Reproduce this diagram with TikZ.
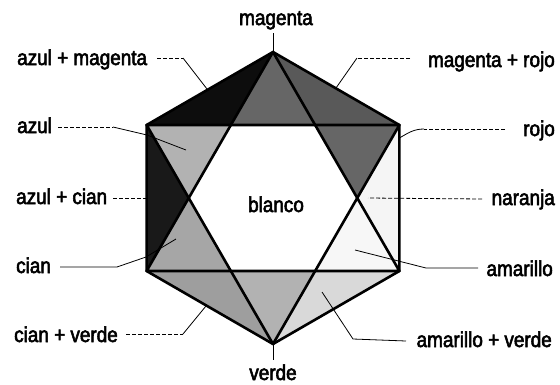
\documentclass[tikz,border=0pt]{standalone}
\usepackage{fontspec}
\setmainfont{Liberation Sans}[FakeStretch=0.88, FakeBold=2.6]
\begin{document}
\begin{tikzpicture}[x=1pt,y=-1pt,
  lbl/.style={inner sep=0pt, font=\fontsize{21.5}{24}\selectfont},
  edge/.style={line width=2.6pt, line join=round, line cap=round},
  leader/.style={line width=0.8pt},
  dleader/.style={line width=0.8pt, dash pattern=on 4pt off 2pt}]
\useasboundingbox (0,0) rectangle (560,384);
% hexagon vertices
\coordinate (T)  at (273,52);
\coordinate (UR) at (399.4,125);
\coordinate (LR) at (399.4,271);
\coordinate (B)  at (273,344);
\coordinate (LL) at (146.6,271);
\coordinate (UL) at (146.6,125);
% star intersections
\coordinate (P1) at (230.9,125);
\coordinate (P2) at (315.1,125);
\coordinate (Q1) at (188.7,198);
\coordinate (Q2) at (357.3,198);
\coordinate (P3) at (230.9,271);
\coordinate (P4) at (315.1,271);
% fills
\fill[black!60] (T) -- (P1) -- (P2) -- cycle;          % magenta
\fill[black!95] (T) -- (UL) -- (P1) -- cycle;          % azul + magenta
\fill[black!65] (T) -- (P2) -- (UR) -- cycle;          % magenta + rojo
\fill[black!60] (UR) -- (P2) -- (Q2) -- cycle;         % rojo
\fill[black!4]  (UR) -- (Q2) -- (LR) -- cycle;         % naranja
\fill[black!3]  (LR) -- (Q2) -- (P4) -- cycle;         % amarillo
\fill[black!15] (LR) -- (P4) -- (B) -- cycle;          % amarillo + verde
\fill[black!30] (B) -- (P4) -- (P3) -- cycle;          % verde
\fill[black!38] (B) -- (P3) -- (LL) -- cycle;          % cian + verde
\fill[black!35] (LL) -- (P3) -- (Q1) -- cycle;         % cian
\fill[black!90] (LL) -- (Q1) -- (UL) -- cycle;         % azul + cian
\fill[black!30] (UL) -- (Q1) -- (P1) -- cycle;         % azul
% lines
\draw[edge] (T) -- (UR) -- (LR) -- (B) -- (LL) -- (UL) -- cycle;
\draw[edge] (UL) -- (UR) -- (B) -- cycle;
\draw[edge] (T) -- (LR) -- (LL) -- cycle;
% labels
\node[lbl, anchor=base] (lM) at (276,25) {magenta};
\node[lbl, anchor=base] (lW) at (276,212) {blanco};
\node[lbl, anchor=base] (lV) at (273,380) {verde};
\node[lbl, anchor=base west] (lAM) at (17,65) {azul + magenta};
\node[lbl, anchor=base west] (lA) at (17,133) {azul};
\node[lbl, anchor=base west] (lAC) at (16,204) {azul + cian};
\node[lbl, anchor=base west] (lC) at (16,273) {cian};
\node[lbl, anchor=base west] (lCV) at (14,342) {cian + verde};
\node[lbl, anchor=base east] (lMR) at (555,67) {magenta + rojo};
\node[lbl, anchor=base east] (lR) at (555,136) {rojo};
\node[lbl, anchor=base east] (lN) at (555,205) {naranja};
\node[lbl, anchor=base east] (lY) at (553,276) {amarillo};
\node[lbl, anchor=base east] (lYV) at (552,347) {amarillo + verde};
% leader coordinates
\coordinate (mA) at (273,33);
\coordinate (vA) at (273,360);
\coordinate (amS) at (157,58);  \coordinate (amK) at (183,58);  \coordinate (amE) at (207,89);
\coordinate (mrS) at (410,58);  \coordinate (mrK) at (357,58);  \coordinate (mrE) at (336,88);
\coordinate (aS) at (58,127);   \coordinate (aK) at (113,127);  \coordinate (aJ) at (147,135); \coordinate (aE) at (186,150);
\coordinate (acS) at (113,198); \coordinate (acE) at (146.6,198);
\coordinate (cS) at (60,267);   \coordinate (cK) at (117,267);  \coordinate (cJ) at (146,257); \coordinate (cE) at (176,239);
\coordinate (cvS) at (126,334); \coordinate (cvK) at (183,334); \coordinate (cvE) at (206,306);
\coordinate (rS) at (505,129);  \coordinate (rK) at (424,129);  \coordinate (rE) at (399.4,138);
\coordinate (nS) at (482,199);  \coordinate (nE) at (368,198);
\coordinate (yS) at (478,268);  \coordinate (yK) at (426,268);  \coordinate (yE) at (355,250);
\coordinate (yvS) at (406,341); \coordinate (yvK) at (353,339); \coordinate (yvE) at (322,292);
% leaders
\draw[leader] (mA) -- (T);
\draw[leader] (B) -- (vA);
\draw[dleader] (amS) -- (amK);  \draw[leader] (amK) -- (amE);
\draw[dleader] (mrS) -- (mrK);  \draw[leader] (mrK) -- (mrE);
\draw[dleader] (aS) -- (aK);    \draw[leader] (aK) -- (aJ) -- (aE);
\draw[dleader] (acS) -- (acE);
\draw[leader] (cS) -- (cK) -- (cJ) -- (cE);
\draw[dleader] (cvS) -- (cvK);  \draw[leader] (cvK) -- (cvE);
\draw[dleader] (rS) -- (rK);    \draw[leader] (rK) to[out=180,in=30] (rE);
\draw[dleader] (nS) -- (nE);
\draw[leader] (yS) -- (yK) -- (yE);
\draw[leader] (yvS) -- (yvK) -- (yvE);
\end{tikzpicture}
\end{document}
